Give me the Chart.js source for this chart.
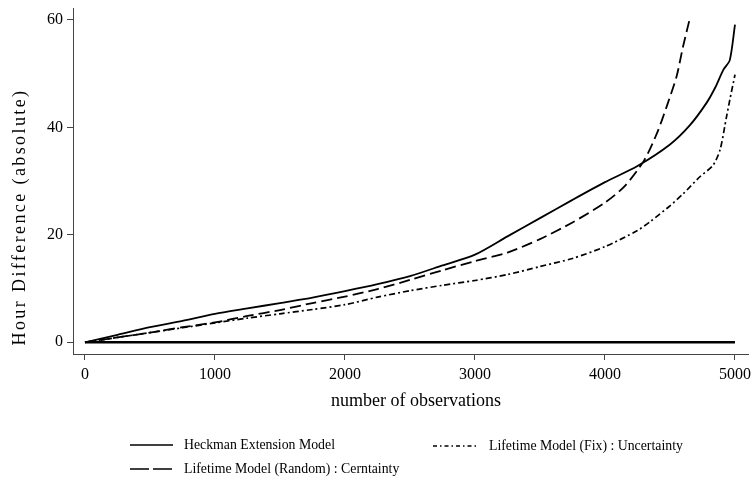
<!DOCTYPE html>
<html><head><meta charset="utf-8">
<script src="https://cdn.jsdelivr.net/npm/chart.js@4/dist/chart.umd.min.js"></script>
<style>html,body{margin:0;padding:0;background:#fff;}</style>
</head><body>
<canvas id="c" width="754" height="480"></canvas>
<script>
// ---- data ----
const xTickValues = [0, 1000, 2000, 3000, 4000, 5000];
const yTickValues = [0, 20, 40, 60];
const xTitle = "number of observations";
const yTitle = "Hour Difference (absolute)";

const heckmanLabel = "Heckman Extension Model";
const heckmanX = [0, 250, 500, 750, 1000, 1250, 1500, 1750, 2000, 2250, 2500, 2750, 3000, 3250, 3500, 3750, 4000, 4250, 4500, 4650, 4780, 4850, 4910, 4960, 5000];
const heckmanY = [0, 1.4, 2.8, 4.0, 5.3, 6.3, 7.3, 8.3, 9.5, 10.8, 12.3, 14.3, 16.3, 19.7, 23.1, 26.5, 29.8, 32.8, 36.8, 40.3, 44.5, 47.5, 50.7, 52.5, 59.1];

const randomLabel = "Lifetime Model (Random) : Cerntainty";
const randomX = [0, 250, 500, 750, 1000, 1250, 1500, 1750, 2000, 2250, 2500, 2750, 3000, 3250, 3500, 3750, 4000, 4150, 4300, 4400, 4475, 4550, 4600, 4650];
const randomY = [0, 0.9, 1.8, 2.8, 3.7, 4.9, 6.0, 7.3, 8.5, 9.9, 11.6, 13.4, 15.1, 16.7, 19.2, 22.3, 26.0, 29.0, 33.8, 38.9, 43.9, 49.4, 55.0, 60.0];

const fixLabel = "Lifetime Model (Fix) : Uncertainty";
const fixX = [0, 250, 500, 750, 1000, 1250, 1500, 1750, 2000, 2250, 2500, 2750, 3000, 3250, 3500, 3750, 4000, 4250, 4350, 4500, 4600, 4730, 4830, 4885, 4935, 4960, 5000];
const fixY = [0, 0.9, 1.8, 2.7, 3.6, 4.5, 5.3, 6.1, 7.0, 8.4, 9.6, 10.6, 11.5, 12.6, 14.1, 15.6, 17.8, 20.8, 22.5, 25.4, 27.6, 30.8, 32.9, 35.8, 42.0, 45.1, 49.8];

const baselineX = [0, 5000];
const baselineY = [0, 0];

// ---- chart ----
const FONT = "'Liberation Serif', 'Times New Roman', serif";
Chart.defaults.font.family = FONT;
Chart.defaults.color = '#000';

const pts = (xs, ys) => xs.map((x, i) => ({x: x, y: ys[i]}));

const datasets = [
  {label: heckmanLabel, data: pts(heckmanX, heckmanY), borderColor: '#000', borderWidth: 1.8, borderDash: [], legendDash: [], inLegend: true},
  {label: fixLabel, data: pts(fixX, fixY), borderColor: '#000', borderWidth: 1.7, borderDash: [6, 3, 2, 3], legendDash: [4, 3, 1.5, 3], inLegend: true},
  {label: randomLabel, data: pts(randomX, randomY), borderColor: '#000', borderWidth: 1.8, borderDash: [11, 5], legendDash: [19, 4], inLegend: true},
  {label: 'baseline', data: pts(baselineX, baselineY), borderColor: '#000', borderWidth: 2.4, borderDash: [], inLegend: false}
];
datasets.forEach(d => { d.pointRadius = 0; d.tension = 0.25; d.fill = false; });

const legendSlots = [
  {x1: 130, x2: 173, y: 445, tx: 184},
  {x1: 433, x2: 477, y: 446, tx: 489},
  {x1: 130, x2: 173, y: 469, tx: 184}
];

const decor = {
  id: 'decor',
  afterDraw(chart) {
    const ctx = chart.ctx;
    ctx.save();
    ctx.fillStyle = '#000';
    // axis titles
    ctx.font = "18px " + FONT;
    ctx.textAlign = 'center';
    ctx.textBaseline = 'middle';
    ctx.fillText(xTitle, 416, 401);
    ctx.save();
    ctx.font = "18px " + FONT;
    ctx.translate(20, 217);
    ctx.rotate(-Math.PI / 2);
    if ('letterSpacing' in ctx) { ctx.letterSpacing = '2.4px'; }
    ctx.fillText(yTitle, 0, 0);
    ctx.restore();
    // legend
    ctx.font = "13.8px " + FONT;
    ctx.textAlign = 'left';
    let k = 0;
    chart.data.datasets.forEach(ds => {
      if (!ds.inLegend) return;
      const s = legendSlots[k++];
      ctx.beginPath();
      ctx.setLineDash(ds.legendDash);
      ctx.lineWidth = 1.7;
      ctx.strokeStyle = '#000';
      ctx.moveTo(s.x1, s.y);
      ctx.lineTo(s.x2, s.y);
      ctx.stroke();
      ctx.setLineDash([]);
      ctx.fillText(ds.label, s.tx, s.y);
    });
    ctx.restore();
  }
};

const axisColor = '#444';
new Chart(document.getElementById('c'), {
  type: 'line',
  data: {datasets: datasets},
  options: {
    responsive: false,
    animation: false,
    layout: {padding: {top: 8, right: 6, left: 0, bottom: 69}},
    plugins: {legend: {display: false}, tooltip: {enabled: false}},
    scales: {
      x: {
        type: 'linear', min: -92, max: 5100,
        border: {display: true, color: axisColor, width: 1},
        grid: {drawOnChartArea: false, drawTicks: true, tickLength: 6, color: axisColor},
        ticks: {font: {size: 16}, padding: 5, color: '#000', maxRotation: 0, callback: v => String(v)},
        afterBuildTicks: s => { s.ticks = xTickValues.map(v => ({value: v})); },
        afterFit: s => { s.height = 57; s.paddingLeft = 0; s.paddingRight = 0; }
      },
      y: {
        type: 'linear', min: -2.18, max: 62.2,
        border: {display: true, color: axisColor, width: 1},
        grid: {drawOnChartArea: false, drawTicks: true, tickLength: 6, color: axisColor},
        ticks: {font: {size: 16}, padding: 4, color: '#000', callback: v => String(v)},
        afterBuildTicks: s => { s.ticks = yTickValues.map(v => ({value: v})); },
        afterFit: s => { s.width = 73; s.paddingTop = 0; s.paddingBottom = 0; }
      }
    }
  },
  plugins: [decor]
});
</script>
</body></html>
